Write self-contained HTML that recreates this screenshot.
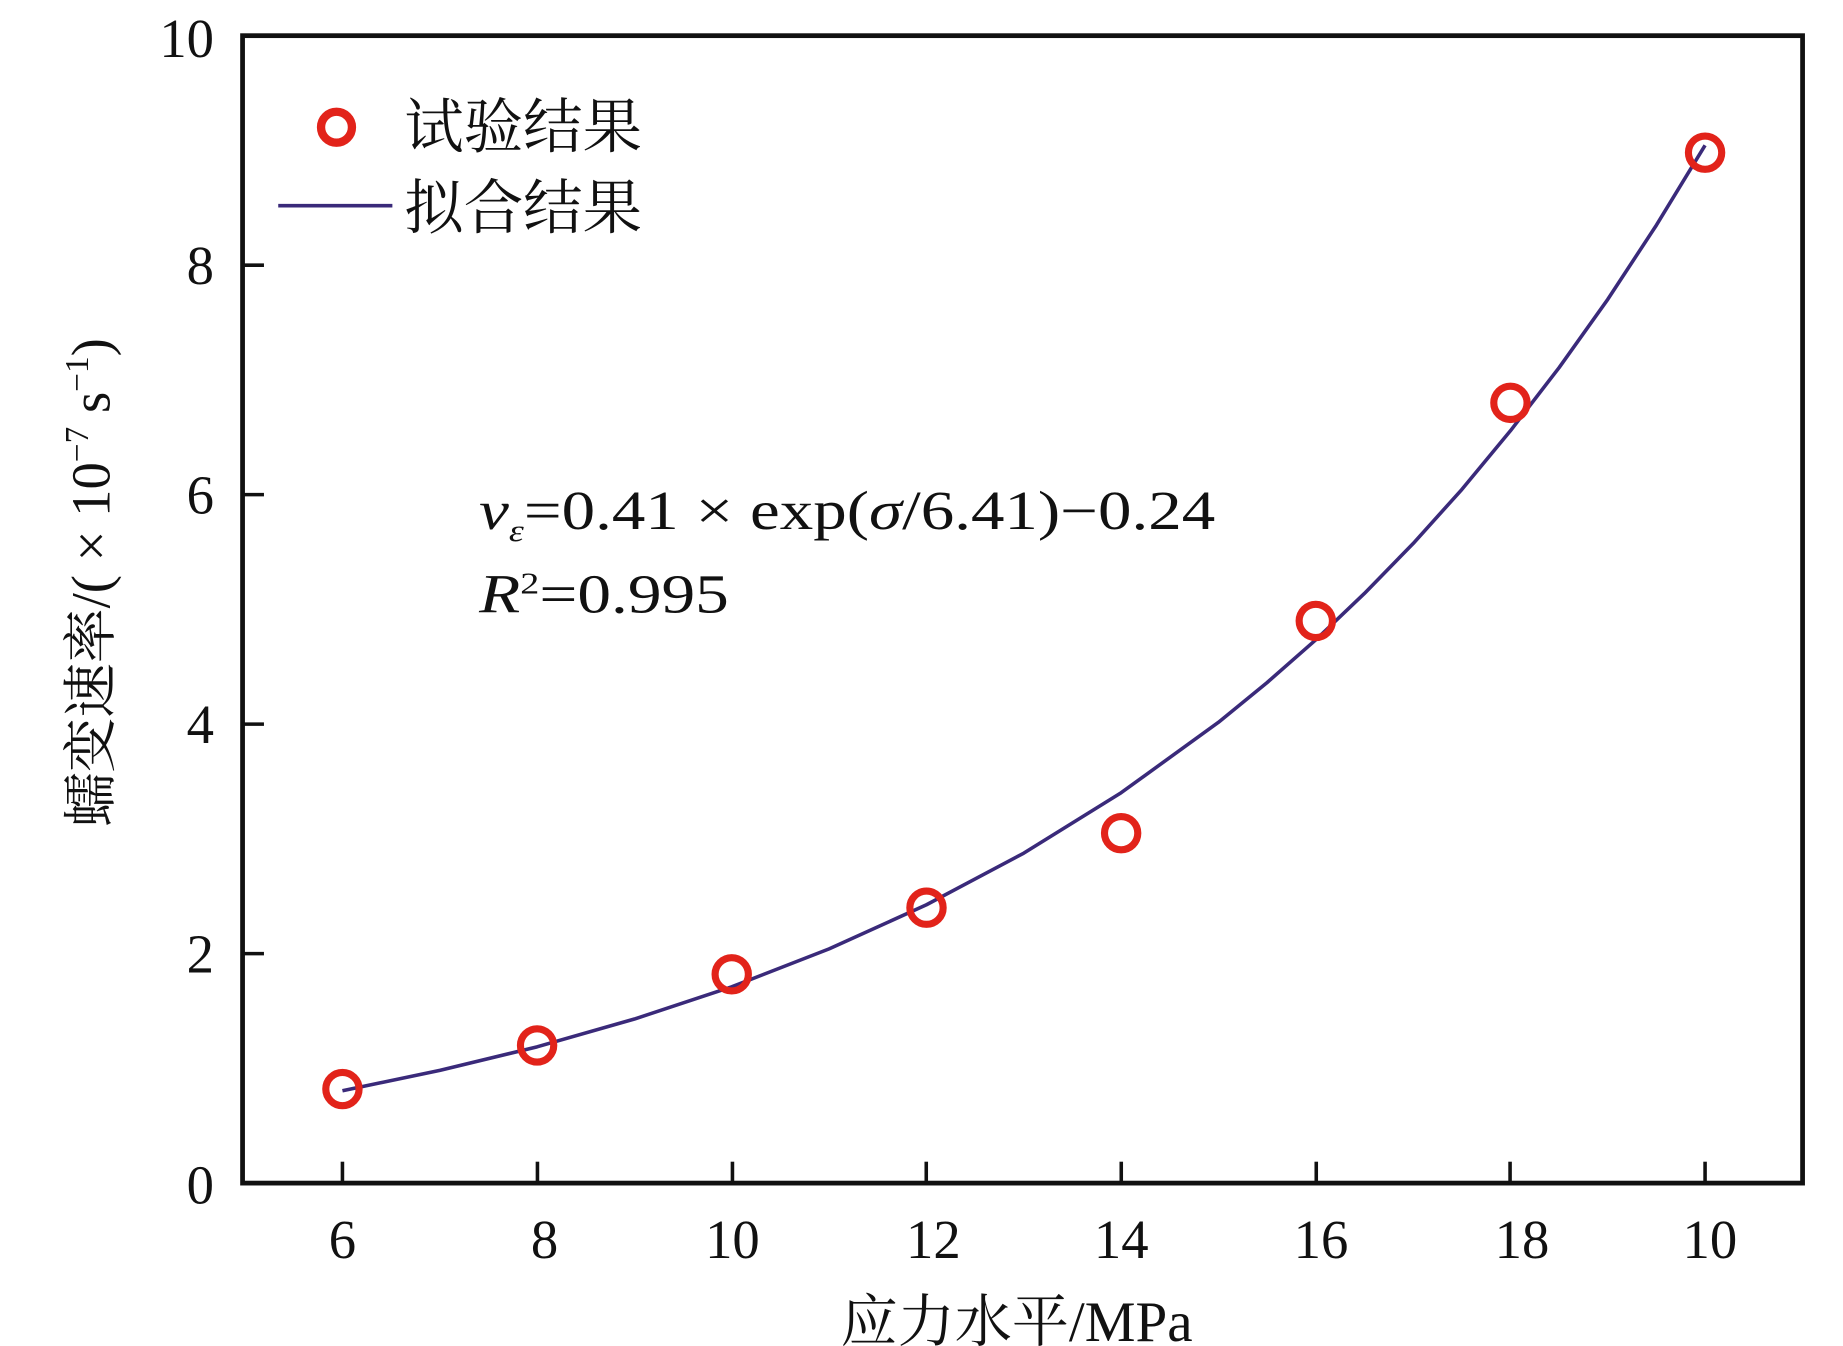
<!DOCTYPE html>
<html><head><meta charset="utf-8"><style>
html,body{margin:0;padding:0;background:#fff;}
svg{display:block;}
text{font-family:"Liberation Serif","Noto Serif CJK SC",serif;fill:#111;}
.cjk{font-family:"Liberation Serif","Noto Serif CJK SC","Noto Sans CJK SC",serif;}
</style></head><body>
<svg width="1843" height="1346" viewBox="0 0 1550 1132" preserveAspectRatio="none" xmlns="http://www.w3.org/2000/svg">
<rect x="0" y="0" width="1550" height="1132" fill="#fff"/>
<rect x="204" y="30" width="1312" height="965" fill="none" stroke="#111" stroke-width="4"/>
<g stroke="#111" stroke-width="3">
<line x1="204" y1="802" x2="222" y2="802"/>
<line x1="204" y1="609" x2="222" y2="609"/>
<line x1="204" y1="416" x2="222" y2="416"/>
<line x1="204" y1="223" x2="222" y2="223"/>
<line x1="288" y1="995" x2="288" y2="977"/>
<line x1="452" y1="995" x2="452" y2="977"/>
<line x1="616" y1="995" x2="616" y2="977"/>
<line x1="779" y1="995" x2="779" y2="977"/>
<line x1="943" y1="995" x2="943" y2="977"/>
<line x1="1107" y1="995" x2="1107" y2="977"/>
<line x1="1270" y1="995" x2="1270" y2="977"/>
<line x1="1434" y1="995" x2="1434" y2="977"/>
</g>
<g font-size="46" text-anchor="end">
<text x="180" y="1012">0</text>
<text x="180" y="818">2</text>
<text x="180" y="625">4</text>
<text x="180" y="432">6</text>
<text x="180" y="239">8</text>
<text x="180" y="48">10</text>
</g>
<g font-size="46" text-anchor="middle">
<text x="288" y="1058">6</text>
<text x="458" y="1058">8</text>
<text x="616" y="1058">10</text>
<text x="785" y="1058">12</text>
<text x="943" y="1058">14</text>
<text x="1111" y="1058">16</text>
<text x="1280" y="1058">18</text>
<text x="1438" y="1058">10</text>
</g>
<text class="cjk" x="855" y="1128" font-size="48" text-anchor="middle">应力水平/MPa</text>
<text class="cjk" transform="translate(92,490) rotate(-90)" font-size="46" text-anchor="middle">蠕变速率/( × 10<tspan dy="-18" font-size="28">−7</tspan><tspan dy="18"> s</tspan><tspan dy="-18" font-size="28">−1</tspan><tspan dy="18">)</tspan></text>
<polyline fill="none" stroke="#3a2a7a" stroke-width="3" stroke-linejoin="round" points="288,917.3 369.9,900.2 451.7,880.4 533.6,857.0 615.4,829.9 697.3,798.0 779.2,760.9 861.0,717.5 942.9,666.7 1024.7,607.5 1065.6,574.1 1106.6,538.1 1147.5,499.1 1188.5,457.1 1229.4,411.7 1270.3,362.3 1311.2,309.2 1352.2,251.7 1393.1,189.3 1434,122.2"/>
<g fill="none" stroke="#e2231a" stroke-width="6">
<circle cx="288" cy="915.9" r="14"/>
<circle cx="451.7" cy="879.2" r="14"/>
<circle cx="615.4" cy="819.4" r="14"/>
<circle cx="779.2" cy="763.4" r="14"/>
<circle cx="942.9" cy="700.7" r="14"/>
<circle cx="1106.6" cy="522.2" r="14"/>
<circle cx="1270.3" cy="338.8" r="14"/>
<circle cx="1434" cy="128.4" r="14"/>
</g>
<circle cx="283" cy="107" r="13" fill="none" stroke="#e2231a" stroke-width="7"/>
<text class="cjk" x="340" y="124" font-size="50">试验结果</text>
<line x1="234" y1="173" x2="330" y2="173" stroke="#3a2a7a" stroke-width="3"/>
<text class="cjk" x="340" y="192" font-size="50">拟合结果</text>
<text x="403" y="445" font-size="46" textLength="619" lengthAdjust="spacingAndGlyphs"><tspan font-style="italic">v</tspan><tspan font-style="italic" font-size="26" dy="10">ε</tspan><tspan dy="-10">=0.41 × exp(</tspan><tspan font-style="italic">σ</tspan>/6.41)−0.24</text>
<text x="403" y="515" font-size="46" textLength="210" lengthAdjust="spacingAndGlyphs"><tspan font-style="italic">R</tspan><tspan font-size="26" dy="-16">2</tspan><tspan dy="16">=0.995</tspan></text>
</svg>
</body></html>
